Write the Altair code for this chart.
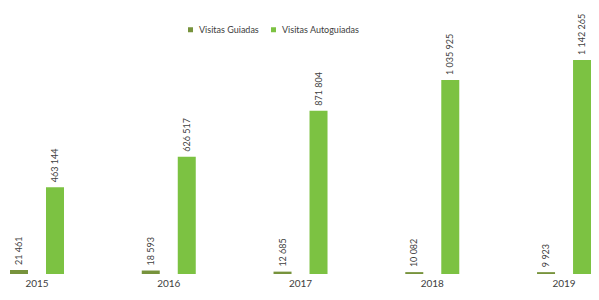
import altair as alt
import pandas as pd

years = ["2015", "2016", "2017", "2018", "2019"]
series = ["Visitas Guiadas", "Visitas Autoguiadas"]
guided = [21461, 18593, 12685, 10082, 9923]
autoguided = [463144, 626517, 871804, 1035925, 1142265]
colors = ["#77933c", "#7cc242"]

rows = []
for i, yr in enumerate(years):
    for s, vals in zip(series, [guided, autoguided]):
        v = vals[i]
        rows.append({"year": yr, "serie": s, "value": v,
                     "label": f"{v:,}".replace(",", " ")})
df = pd.DataFrame(rows)

FONT = "Lato"

x = alt.X("year:N", sort=years,
          scale=alt.Scale(domain=years, range=[-36.9, 621.9], paddingInner=0, paddingOuter=0),
          axis=alt.Axis(title=None, labelAngle=0, domain=False, ticks=False, grid=False,
                        labelPadding=4, labelFontSize=10, labelColor="#404040", labelFont=FONT))
xo = alt.XOffset("serie:N", sort=series,
                 scale=alt.Scale(domain=series, range=[38.9, 92.9], paddingInner=0.5, paddingOuter=0))
y = alt.Y("value:Q", scale=alt.Scale(domain=[0, 1420000], nice=False), axis=None)

bars = alt.Chart(df).mark_bar().encode(
    x=x, xOffset=xo, y=y,
    color=alt.Color("serie:N", sort=series,
                    scale=alt.Scale(domain=series, range=colors),
                    legend=alt.Legend(title=None, orient="none", legendX=178, legendY=17,
                                      direction="horizontal", symbolType="square",
                                      symbolSize=25, labelFontSize=9, labelFont=FONT,
                                      labelColor="#404040", columnPadding=10)),
)

labels = alt.Chart(df).mark_text(angle=270, align="left", baseline="middle", dx=5,
                                  fontSize=9, font=FONT, color="#404040").encode(
    x=x, xOffset=xo, y=y, text="label:N"
)

chart = alt.layer(bars, labels).properties(
    width=583, height=266,
    autosize=alt.AutoSizeParams(type="none"),
    padding={"left": 0, "top": 0, "right": 0, "bottom": 18},
).configure_view(stroke=None)

chart.save("out.html", embed_options={"renderer": "svg", "actions": False})
